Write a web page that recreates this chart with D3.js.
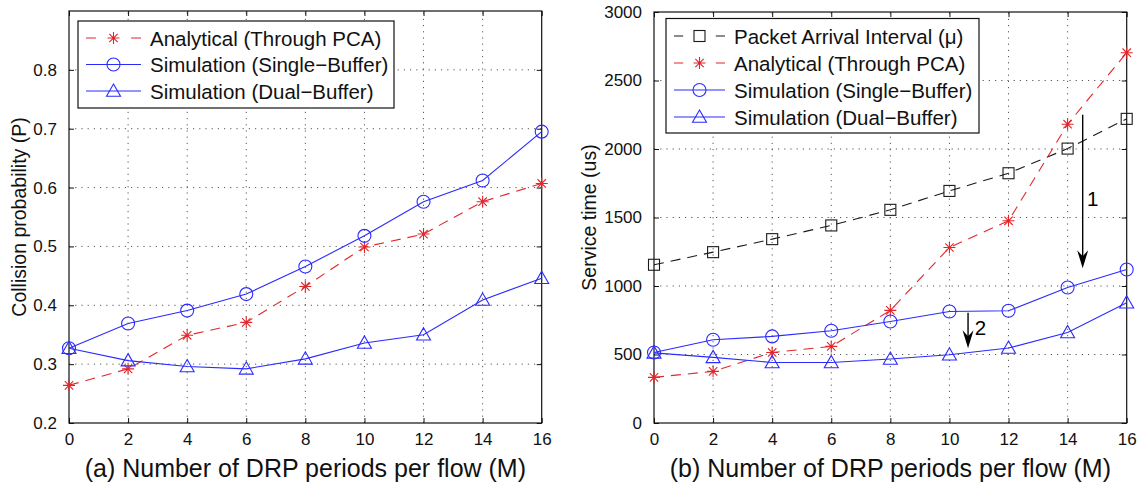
<!DOCTYPE html>
<html>
<head>
<meta charset="utf-8">
<script src="https://cdn.jsdelivr.net/npm/d3@7"></script>
<style>
  body { margin: 0; background: #fff; }
  svg { display: block; font-family: "Liberation Sans", Arial, sans-serif; }
</style>
</head>
<body>
<div id="chart"></div>
<script>
// ---- data ----
const periods = [0, 2, 4, 6, 8, 10, 12, 14, 16];
const xTicks = [0, 2, 4, 6, 8, 10, 12, 14, 16];

// (a) collision probability
const probAnalytical = [0.264, 0.292, 0.349, 0.371, 0.432, 0.499, 0.521, 0.576, 0.607];
const probSingle     = [0.327, 0.369, 0.391, 0.419, 0.466, 0.518, 0.576, 0.612, 0.695];
const probDual       = [0.327, 0.306, 0.296, 0.292, 0.309, 0.336, 0.350, 0.409, 0.446];
const probTicks = [0.2, 0.3, 0.4, 0.5, 0.6, 0.7, 0.8];

// (b) service time (us)
const timeArrival    = [1155, 1247, 1342, 1442, 1556, 1694, 1823, 2003, 2220];
const timeAnalytical = [333, 377, 515, 559, 822, 1281, 1476, 2181, 2703];
const timeSingle     = [515, 608, 632, 673, 741, 814, 819, 989, 1120];
const timeDual       = [512, 479, 442, 442, 467, 498, 547, 661, 878];
const timeTicks = [0, 500, 1000, 1500, 2000, 2500, 3000];

// annotation arrows on (b), in data units
const arrowX      = [14.51, 10.63];
const arrowFrom   = [2250, 805];
const arrowTo     = [1130, 545];
const arrowLabels = ["1", "2"];
const labelX      = [14.85, 11.05];
const labelY      = [1640, 700];

const RED = "#e2262b", BLUE = "#2b2bff", BLACK = "#1a1a1a";

const svg = d3.select("#chart").append("svg")
    .attr("width", 1142)
    .attr("height", 482);

function marker(g, type, x, y, color) {
    if (type === "star") {
        let r = 6;
        let p = "M" + x + "," + (y - r) + "L" + x + "," + (y + r)
              + "M" + (x - r) + "," + y + "L" + (x + r) + "," + y
              + "M" + (x - r * 0.7) + "," + (y - r * 0.7) + "L" + (x + r * 0.7) + "," + (y + r * 0.7)
              + "M" + (x - r * 0.7) + "," + (y + r * 0.7) + "L" + (x + r * 0.7) + "," + (y - r * 0.7);
        g.append("path").attr("d", p).attr("stroke", color).attr("stroke-width", 1.1).attr("fill", "none");
    } else if (type === "circle") {
        g.append("circle").attr("cx", x).attr("cy", y).attr("r", 6.5)
            .attr("fill", "none").attr("stroke", color).attr("stroke-width", 1.1);
    } else if (type === "tri") {
        let s = 7;
        g.append("path")
            .attr("d", "M" + x + "," + (y - s) + "L" + (x + s) + "," + (y + s * 0.75) + "L" + (x - s) + "," + (y + s * 0.75) + "Z")
            .attr("fill", "none").attr("stroke", color).attr("stroke-width", 1.1);
    } else if (type === "square") {
        let s = 5.5;
        g.append("rect").attr("x", x - s).attr("y", y - s).attr("width", 2 * s).attr("height", 2 * s)
            .attr("fill", "none").attr("stroke", color).attr("stroke-width", 1.1);
    }
}

function drawPanel(cfg) {
    let x = d3.scaleLinear().domain([0, 16]).range([cfg.left, cfg.right]);
    let y = d3.scaleLinear().domain(cfg.yDomain).range([423, cfg.top]);
    let g = svg.append("g");

    // grid
    g.append("g").selectAll("line").data(xTicks.slice(1, -1)).enter().append("line")
        .attr("x1", d => x(d)).attr("x2", d => x(d))
        .attr("y1", y.range()[0]).attr("y2", y.range()[1])
        .attr("stroke", "#444").attr("stroke-width", 0.9).attr("stroke-dasharray", "1.2,5");
    g.append("g").selectAll("line").data(cfg.yTicks.filter(d => d > cfg.yDomain[0] && d < cfg.yDomain[1])).enter().append("line")
        .attr("y1", d => y(d)).attr("y2", d => y(d))
        .attr("x1", cfg.left).attr("x2", cfg.right)
        .attr("stroke", "#444").attr("stroke-width", 0.9).attr("stroke-dasharray", "1.2,5");

    // axes with inward ticks on all four sides
    g.append("g").attr("transform", "translate(0,423)")
        .call(d3.axisBottom(x).tickValues(xTicks).tickSize(-5).tickPadding(10))
        .call(a => a.select(".domain").remove());
    g.append("g").attr("transform", "translate(0," + cfg.top + ")")
        .call(d3.axisTop(x).tickValues(xTicks).tickSize(-5).tickFormat(""))
        .call(a => a.select(".domain").remove());
    g.append("g").attr("transform", "translate(" + cfg.left + ",0)")
        .call(d3.axisLeft(y).tickValues(cfg.yTicks).tickSize(-5).tickPadding(12).tickFormat(cfg.fmt))
        .call(a => a.select(".domain").remove());
    g.append("g").attr("transform", "translate(" + cfg.right + ",0)")
        .call(d3.axisRight(y).tickValues(cfg.yTicks).tickSize(-5).tickFormat(""))
        .call(a => a.select(".domain").remove());
    g.selectAll(".tick line").attr("stroke", "#111");
    g.selectAll(".tick text").attr("font-size", 17).attr("fill", "#111")
        .attr("font-family", "Liberation Sans, Arial, sans-serif");

    g.append("rect")
        .attr("x", cfg.left).attr("y", cfg.top)
        .attr("width", cfg.right - cfg.left).attr("height", 423 - cfg.top)
        .attr("fill", "none").attr("stroke", "#111").attr("stroke-width", 1.2);

    // series
    cfg.series.forEach(s => {
        let line = d3.line().x((d, i) => x(periods[i])).y(d => y(d));
        g.append("path").datum(s.values).attr("d", line)
            .attr("fill", "none").attr("stroke", s.color).attr("stroke-width", 1.1)
            .attr("stroke-dasharray", s.dash ? "10,7" : null);
        s.values.forEach((v, i) => marker(g, s.marker, x(periods[i]), y(v), s.color));
    });

    // labels
    g.append("text")
        .attr("x", (cfg.left + cfg.right) / 2).attr("y", 477)
        .attr("text-anchor", "middle").attr("font-size", 25).attr("fill", "#111")
        .text(cfg.xLabel);
    g.append("text")
        .attr("transform", "translate(" + cfg.yLabelX + "," + ((cfg.top + 423) / 2) + ") rotate(-90)")
        .attr("text-anchor", "middle").attr("font-size", 19.5).attr("fill", "#111")
        .text(cfg.yLabel);

    // legend
    let lg = g.append("g");
    lg.append("rect")
        .attr("x", cfg.legend.x).attr("y", cfg.legend.y)
        .attr("width", cfg.legend.w).attr("height", cfg.legend.h)
        .attr("fill", "#fff").attr("stroke", "#111").attr("stroke-width", 1.2);
    cfg.series.forEach((s, i) => {
        let ry = cfg.legend.y + cfg.legend.first + i * cfg.legend.step;
        let len = cfg.legend.sample;
        let x0 = cfg.legend.x + 8, x1 = cfg.legend.x + 8 + len;
        let d = len * 0.18;
        lg.append("line").attr("x1", x0).attr("x2", x1).attr("y1", ry).attr("y2", ry)
            .attr("stroke", s.color).attr("stroke-width", 1.1)
            .attr("stroke-dasharray", s.dash ? [d, len - 2 * d, d].join(",") : null);
        marker(lg, s.marker, (x0 + x1) / 2, ry, s.color);
        lg.append("text").attr("x", x1 + 9).attr("y", ry)
            .attr("dominant-baseline", "central").attr("font-size", 20.5).attr("fill", "#111")
            .text(s.name);
    });

    return { x: x, y: y, g: g };
}

drawPanel({
    left: 69, right: 541.7, top: 11,
    yDomain: [0.2, 0.9], yTicks: probTicks, fmt: d3.format(".1f"),
    xLabel: "(a) Number of DRP periods per flow (M)",
    yLabel: "Collision probability (P)", yLabelX: 26,
    legend: { x: 78, y: 21, w: 316, h: 87, first: 17, step: 26.5, sample: 55 },
    series: [
        { name: "Analytical (Through PCA)", values: probAnalytical, color: RED, dash: true, marker: "star" },
        { name: "Simulation (Single\u2212Buffer)", values: probSingle, color: BLUE, marker: "circle" },
        { name: "Simulation (Dual\u2212Buffer)", values: probDual, color: BLUE, marker: "tri" }
    ]
});

let pb = drawPanel({
    left: 654, right: 1126.7, top: 12,
    yDomain: [0, 3000], yTicks: timeTicks, fmt: d3.format("d"),
    xLabel: "(b) Number of DRP periods per flow (M)",
    yLabel: "Service time (us)", yLabelX: 596,
    legend: { x: 666, y: 18.5, w: 313, h: 114.5, first: 17.5, step: 27, sample: 51 },
    series: [
        { name: "Packet Arrival Interval (\u03bc)", values: timeArrival, color: BLACK, dash: true, marker: "square" },
        { name: "Analytical (Through PCA)", values: timeAnalytical, color: RED, dash: true, marker: "star" },
        { name: "Simulation (Single\u2212Buffer)", values: timeSingle, color: BLUE, marker: "circle" },
        { name: "Simulation (Dual\u2212Buffer)", values: timeDual, color: BLUE, marker: "tri" }
    ]
});

// arrows
arrowX.forEach((ax, i) => {
    let px = pb.x(ax), y0 = pb.y(arrowFrom[i]), y1 = pb.y(arrowTo[i]);
    pb.g.append("line").attr("x1", px).attr("x2", px).attr("y1", y0).attr("y2", y1 - 6)
        .attr("stroke", "#000").attr("stroke-width", 1.4);
    pb.g.append("path")
        .attr("d", "M" + px + "," + y1 + "L" + (px - 5.5) + "," + (y1 - 18) + "L" + px + "," + (y1 - 12) + "L" + (px + 5.5) + "," + (y1 - 18) + "Z")
        .attr("fill", "#000");
    pb.g.append("text").attr("x", pb.x(labelX[i])).attr("y", pb.y(labelY[i]))
        .attr("text-anchor", "middle").attr("dominant-baseline", "central")
        .attr("font-size", 20.5).attr("fill", "#000").text(arrowLabels[i]);
});
</script>
</body>
</html>
